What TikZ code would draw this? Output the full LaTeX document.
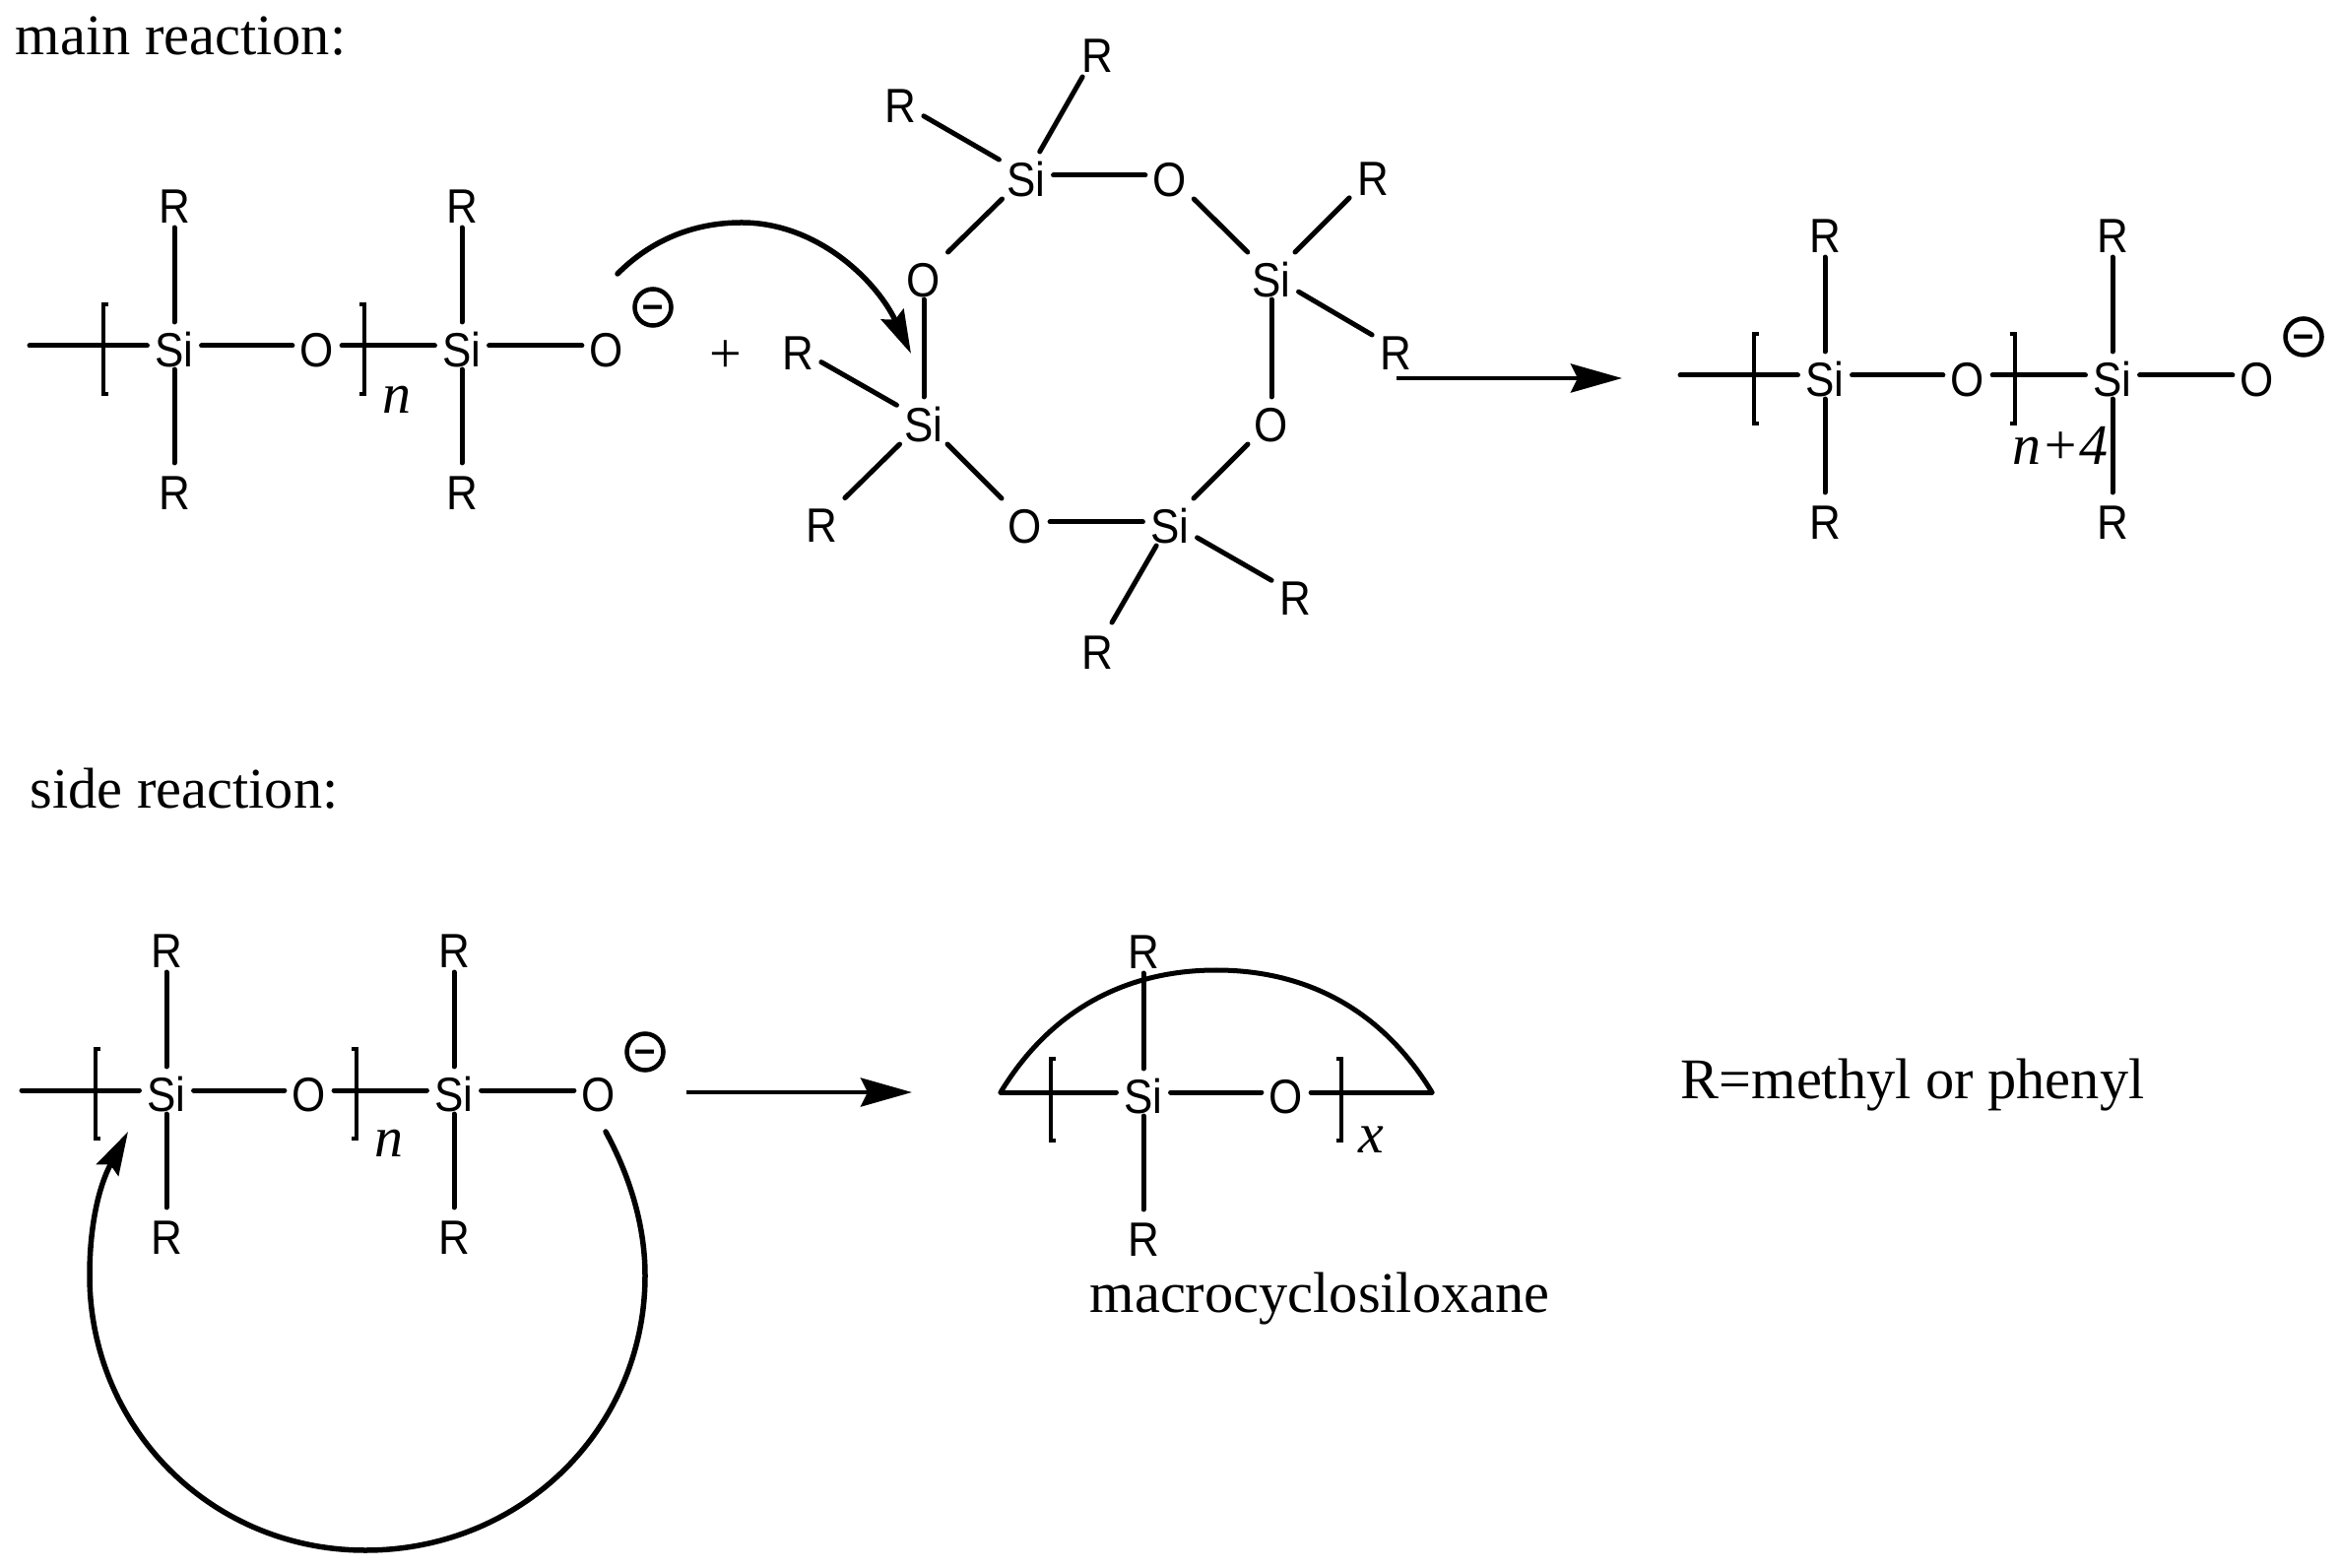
\documentclass[tikz,border=0pt]{standalone}
\usepackage{fontspec}
\setmainfont{Liberation Serif}
\newfontfamily\atomfont[FakeStretch=0.9]{Liberation Sans}
\usetikzlibrary{arrows.meta}
\tikzset{
    atom/.style={inner xsep=0.08cm, inner ysep=0.03cm, outer sep=0pt, text height=0.42cm, text depth=0pt,
                 font=\atomfont\fontsize{13.9pt}{16pt}\selectfont},
    rgroup/.style={atom, inner ysep=0.05cm},
    bond/.style={line width=0.05cm, line cap=round},
    bracket/.style={line width=0.045cm},
    charge/.style={circle, draw, line width=0.045cm, minimum size=0.37cm, inner sep=0pt,
                   text height=0.23cm, text depth=0pt,
                   font=\atomfont\bfseries\fontsize{12pt}{14pt}\selectfont},
    words/.style={inner sep=0pt, anchor=base west, font=\fontsize{16.6pt}{20pt}\selectfont},
    repeats/.style={inner sep=0pt, font=\itshape\fontsize{16.5pt}{20pt}\selectfont},
    curved/.style={line width=0.055cm, line cap=round, -{Stealth[length=0.44cm, width=0.25cm, inset=0.06cm]}},
    react/.style={line width=0.047cm, -{Stealth[length=0.52cm, width=0.29cm, inset=0.07cm]}}
}
\begin{document}
\begin{tikzpicture}[x=0.01cm, y=-0.01cm]
    \useasboundingbox (0,0) rectangle (2376,1592);

    \node[words] (mainlabel) at (15,56) {main reaction:};
    \node[words] (sidelabel) at (30,821) {side reaction:};
    \node[words] (rlabel) at (1706,1115) {R=methyl or phenyl};
    \node[words] (macrolabel) at (1106,1332) {macrocyclosiloxane};

    % the three open chains only differ by a shift
    \foreach \pre/\sx/\sy in {a/0/0, b/1676/30, c/-8/756} {
        \begin{scope}[shift={(\sx,\sy)}, name prefix=\pre-]
            \coordinate (end) at (30,351);
            \node[atom] (si1) at (177,351) {Si};
            \node[atom] (o1) at (322,351) {O};
            \node[atom] (si2) at (469,351) {Si};
            \node[atom] (o2) at (616,351) {O};
            \node[rgroup] (r1) at (177,205) {R};
            \node[rgroup] (r2) at (177,496) {R};
            \node[rgroup] (r3) at (469,205) {R};
            \node[rgroup] (r4) at (469,496) {R};
            \node[charge] (minus) at (663,312) {–};
            \draw[bond] (end) -- (si1);
            \foreach \from/\to in {si1/o1, o1/si2, si2/o2, si1/r1, si1/r2, si2/r3, si2/r4}
                \draw[bond] (\from) -- (\to);
            \draw[bracket] (110,309) -| (105,400) -- (110,400);
            \draw[bracket] (365,309) -| (370,400) -- (365,400);
        \end{scope}
    }
    \node[repeats] (an) at (403,406) {n};
    \node[repeats] (bn) at (2092,452) {n+4};
    \node[repeats] (cn) at (395,1161) {n};
    \node[inner sep=0pt, font=\fontsize{16.5pt}{20pt}\selectfont] (plus) at (737,362) {+};

    % eight membered ring
    \node[atom] (ring1) at (1042,178) {Si};
    \node[atom] (ring2) at (1188,178) {O};
    \node[atom] (ring3) at (1291,280) {Si};
    \node[atom] (ring4) at (1291,427) {O};
    \node[atom] (ring5) at (1188,530) {Si};
    \node[atom] (ring6) at (1041,530) {O};
    \node[atom] (ring7) at (938,427) {Si};
    \node[atom] (ring8) at (938,280) {O};
    \node[rgroup] (rr1) at (1114,52) {R};
    \node[rgroup] (rr2) at (914,104) {R};
    \node[rgroup] (rr3) at (1394,177) {R};
    \node[rgroup] (rr4) at (1417,354) {R};
    \node[rgroup] (rr5) at (1315,603) {R};
    \node[rgroup] (rr6) at (1114,658) {R};
    \node[rgroup] (rr7) at (834,529) {R};
    \node[rgroup] (rr8) at (810,354) {R};
    \foreach \from/\to in {ring1/ring2, ring2/ring3, ring3/ring4, ring4/ring5, ring5/ring6, ring6/ring7,
                           ring7/ring8, ring8/ring1, ring1/rr1, ring1/rr2, ring3/rr3, ring3/rr4,
                           ring5/rr5, ring5/rr6, ring7/rr7, ring7/rr8}
        \draw[bond] (\from) -- (\to);

    % macrocycle
    \coordinate (mleft) at (1016,1109);
    \coordinate (mright) at (1454,1109);
    \node[atom] (msi) at (1161,1109) {Si};
    \node[atom] (mo) at (1306,1109) {O};
    \node[rgroup] (mr1) at (1161,962) {R};
    \node[rgroup] (mr2) at (1161,1254) {R};
    \node[repeats] (mx) at (1392,1157) {x};
    \draw[bond] (mleft) -- (msi);
    \draw[bond] (msi) -- (mo);
    \draw[bond] (mo) -- (mright);
    \draw[bond] (msi) -- (mr1);
    \draw[bond] (msi) -- (mr2);
    \draw[bracket] (1072,1075) -| (1067,1158) -- (1072,1158);
    \draw[bracket] (1357,1075) -| (1362,1158) -- (1357,1158);
    \draw[bond] (mleft) .. controls (1070,1020) and (1150,985) .. (1235,985)
                        .. controls (1320,985) and (1400,1020) .. (mright);

    % reaction arrows
    \coordinate (mainfrom) at (1418,384);
    \coordinate (mainto) at (1647,384);
    \coordinate (sidefrom) at (697,1109);
    \coordinate (sideto) at (926,1109);
    \draw[react] (mainfrom) -- (mainto);
    \draw[react] (sidefrom) -- (sideto);

    % electron pushing
    \coordinate (attackfrom) at (627,278);
    \coordinate (attackto) at (925,359);
    \draw[curved] (attackfrom) .. controls (665,240) and (710,226) .. (753,226)
                               .. controls (830,226) and (890,285) .. (attackto);
    \coordinate (backfrom) at (615,1149);
    \coordinate (backto) at (130,1149);
    \draw[curved] (backfrom) .. controls (640,1195) and (655,1245) .. (655,1295)
                             .. controls (655,1450) and (530,1574) .. (371,1574)
                             .. controls (215,1574) and (91,1450) .. (91,1295)
                             .. controls (91,1245) and (100,1205) .. (backto);
\end{tikzpicture}
\end{document}
